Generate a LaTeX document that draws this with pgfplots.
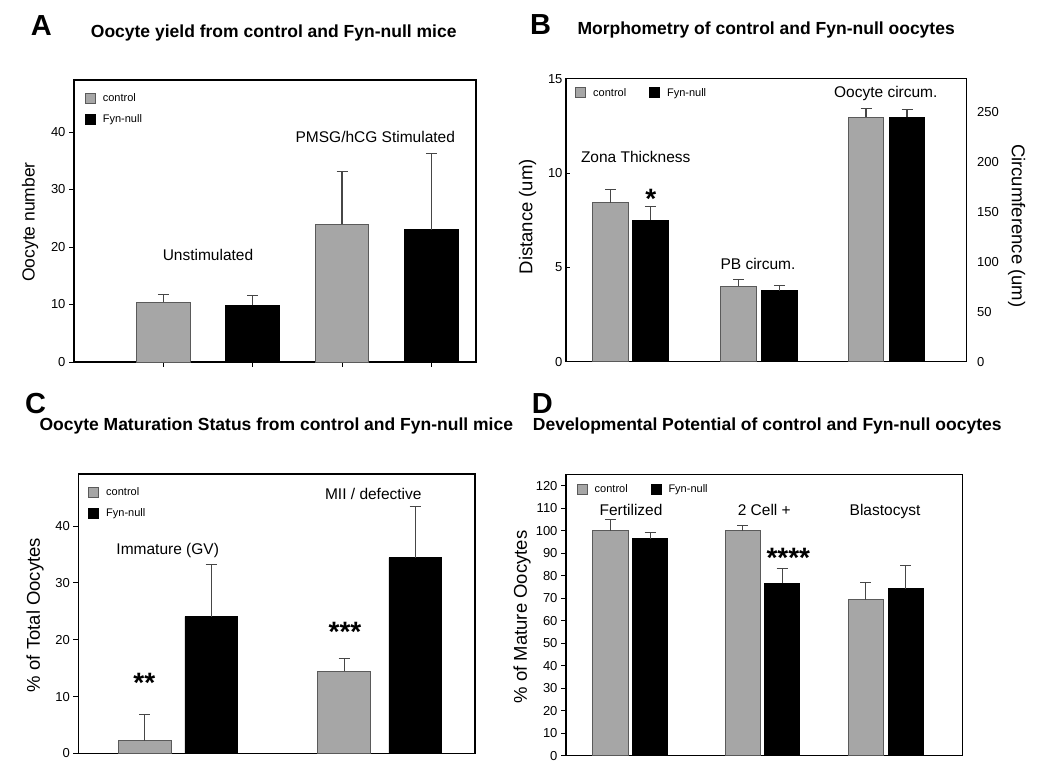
\documentclass[border=0pt]{standalone}
\usepackage{fontspec}
\setmainfont{Liberation Sans}
\usepackage{pgfplots}
\pgfplotsset{compat=1.18}
\definecolor{barg}{HTML}{A6A6A6}
\definecolor{bard}{HTML}{5A5A5A}
\definecolor{errc}{HTML}{464646}
\pgfplotsset{
  panel/.style={scale only axis, ymin=0, ybar, bar shift=0pt,
    axis line style={line width=1.3pt, black},
    tick style={line width=0.9pt, black},
    major tick length=5pt,
    tick label style={font=\fontsize{13}{15}\selectfont},
    /pgf/number format/assume math mode=true,
    xtick=\empty, ytick pos=left, xtick pos=bottom, tick align=outside,
    legend image code/.code={\draw[##1] (0pt,-5pt) rectangle (10pt,5pt); \path (17pt,0pt);},
    legend style={draw=none, fill=none, inner sep=0pt, nodes={inner sep=0pt}, font=\fontsize{11}{13}\selectfont, cells={anchor=west}, anchor=north west},
    clip=false,
  },
  ctrl/.style={fill=barg, draw=bard, line width=0.8pt, error bars/.cd, y dir=plus, y explicit,
    error bar style={line width=1.1pt, errc}, error mark options={rotate=90, line width=1.1pt, errc, mark size=5.5pt}},
  fyn/.style={fill=black, draw=black, line width=0.8pt, error bars/.cd, y dir=plus, y explicit,
    error bar style={line width=1.1pt, errc}, error mark options={rotate=90, line width=1.1pt, errc, mark size=5.5pt}},
}
\begin{document}
\begin{tikzpicture}
\path[use as bounding box] (0pt,0pt) rectangle (1050pt,765pt);
% ---------------- A
\begin{axis}[panel, anchor=south west, at={(74pt,403pt)}, width=402pt, height=282pt,
  xmin=0, xmax=4.5, ymax=49.05, bar width=0.6,
  xtick={1,2,3,4}, xticklabels={}, ytick={0,10,20,30,40},
  legend style={at={(axis description cs:0.027,0.954)}, row sep=10pt}]
\addplot[ctrl] coordinates {(1,10.4) +- (0,1.3) (3,24.0) +- (0,9.2)};
\addplot[fyn] coordinates {(2,9.85) +- (0,1.65) (4,23.0) +- (0,13.2)};
\legend{control, Fyn-null}
\end{axis}
% ---------------- B
\begin{axis}[panel, anchor=south west, at={(566pt,403.3pt)}, width=400.7pt, height=283pt,
  xmin=0, xmax=12.02, ymax=15, bar width=1.07,
  ytick={0,5,10,15}, tick align=inside, major tick length=4pt,
  legend columns=-1,
  legend style={at={(axis description cs:0.023,0.970)}, /tikz/every even column/.append style={column sep=23pt}}]
\addplot[ctrl] coordinates {(1.34,8.43) +- (0,0.69) (5.18,4.01) +- (0,0.34) (9.00,12.95) +- (0,0.46)};
\addplot[fyn] coordinates {(2.53,7.51) +- (0,0.71) (6.40,3.76) +- (0,0.30) (10.23,12.95) +- (0,0.41)};
\legend{control, Fyn-null}
\end{axis}
\begin{axis}[scale only axis, anchor=south west, at={(566pt,403.3pt)}, width=400.7pt, height=283pt,
  axis y line*=right, axis x line=none, ymin=0, ymax=283, xmin=0, xmax=1,
  ytick={0,50,100,150,200,250}, major tick length=0pt,
  axis line style={line width=1.3pt, black},
  tick label style={font=\fontsize{13}{15}\selectfont},
  yticklabel style={xshift=7pt},
  /pgf/number format/assume math mode=true]
\end{axis}
% ---------------- C
\begin{axis}[panel, anchor=south west, at={(78.3pt,11.5pt)}, width=396.7pt, height=279.5pt,
  xmin=0, xmax=5.97, ymax=49.15, bar width=0.79,
  ytick={0,10,20,30,40},
  legend style={at={(axis description cs:0.025,0.953)}, row sep=10pt}]
\addplot[ctrl] coordinates {(1,2.23) +- (0,4.63) (4,14.49) +- (0,2.17)};
\addplot[fyn] coordinates {(2,24.05) +- (0,9.2) (5.07,34.43) +- (0,9.03)};
\legend{control, Fyn-null}
\end{axis}
% ---------------- D
\begin{axis}[panel, anchor=south west, at={(566pt,9.3pt)}, width=396.7pt, height=281.4pt,
  xmin=0, xmax=11.9, ymax=125, bar width=1.06,
  ytick={0,10,...,120},
  legend columns=-1,
  legend style={at={(axis description cs:0.027,0.966)}, /tikz/every even column/.append style={column sep=23pt}}]
\addplot[ctrl] coordinates {(1.335,100) +- (0,5) (5.30,100) +- (0,2.4) (8.99,69.3) +- (0,7.7)};
\addplot[fyn] coordinates {(2.525,96.4) +- (0,2.6) (6.485,76.6) +- (0,6.7) (10.195,74.2) +- (0,10.2)};
\legend{control, Fyn-null}
\end{axis}
% ---------------- titles
\begin{scope}[x=1pt, y=1pt, every node/.style={inner sep=0pt}]
\node[anchor=base west, font=\fontsize{29}{30}\selectfont\bfseries] at (30.7,729) {A};
\node[anchor=base west, font=\fontsize{17.5}{20}\selectfont\bfseries] at (90.7,727.7) {Oocyte yield from control and Fyn-null mice};
\node[anchor=base west, font=\fontsize{29}{30}\selectfont\bfseries] at (530,730) {B};
\node[anchor=base west, font=\fontsize{17.5}{20}\selectfont\bfseries] at (577.3,730.3) {Morphometry of control and Fyn-null oocytes};
\node[anchor=base west, font=\fontsize{29}{30}\selectfont\bfseries] at (25,351.7) {C};
\node[anchor=base west, font=\fontsize{17.5}{20}\selectfont\bfseries] at (39.3,334.3) {Oocyte Maturation Status from control and Fyn-null mice};
\node[anchor=base west, font=\fontsize{29}{30}\selectfont\bfseries] at (531.7,351.7) {D};
\node[anchor=base west, font=\fontsize{17.5}{20}\selectfont\bfseries] at (532.7,334.3) {Developmental Potential of control and Fyn-null oocytes};
% annotations
\begin{scope}[every node/.append style={anchor=base, font=\fontsize{15.5}{18}\selectfont}]
\node at (208,504.3) {Unstimulated};
\node at (375.3,622.3) {PMSG/hCG Stimulated};
\node at (635.7,602.3) {Zona Thickness};
\node at (758,495) {PB circum.};
\node at (885.8,667.7) {Oocyte circum.};
\node at (167.7,210.7) {Immature (GV)};
\node at (373.3,265) {MII / defective};
\node at (631,249) {Fertilized};
\node at (764.3,249) {2 Cell +};
\node at (885,249) {Blastocyst};
\end{scope}
\begin{scope}[every node/.append style={anchor=base, font=\fontsize{28}{30}\selectfont\bfseries}]
\node at (650.7,556.7) {*};
\node at (144.3,72.1) {**};
\node at (345,123.8) {***};
\node at (788.3,197.1) {****};
\end{scope}
% y labels
\node[rotate=90, font=\fontsize{17.5}{20}\selectfont] at (30,543) {Oocyte number};
\node[rotate=90, font=\fontsize{18.5}{20}\selectfont] at (527.5,548.3) {Distance (um)};
\node[rotate=-90, font=\fontsize{18.5}{20}\selectfont] at (1016.7,539.2) {Circumference (um)};
\node[rotate=90, font=\fontsize{18.5}{20}\selectfont] at (35,150) {\% of Total Oocytes};
\node[rotate=90, font=\fontsize{18.5}{20}\selectfont] at (522,148) {\% of Mature Oocytes};
\end{scope}
\end{tikzpicture}
\end{document}
